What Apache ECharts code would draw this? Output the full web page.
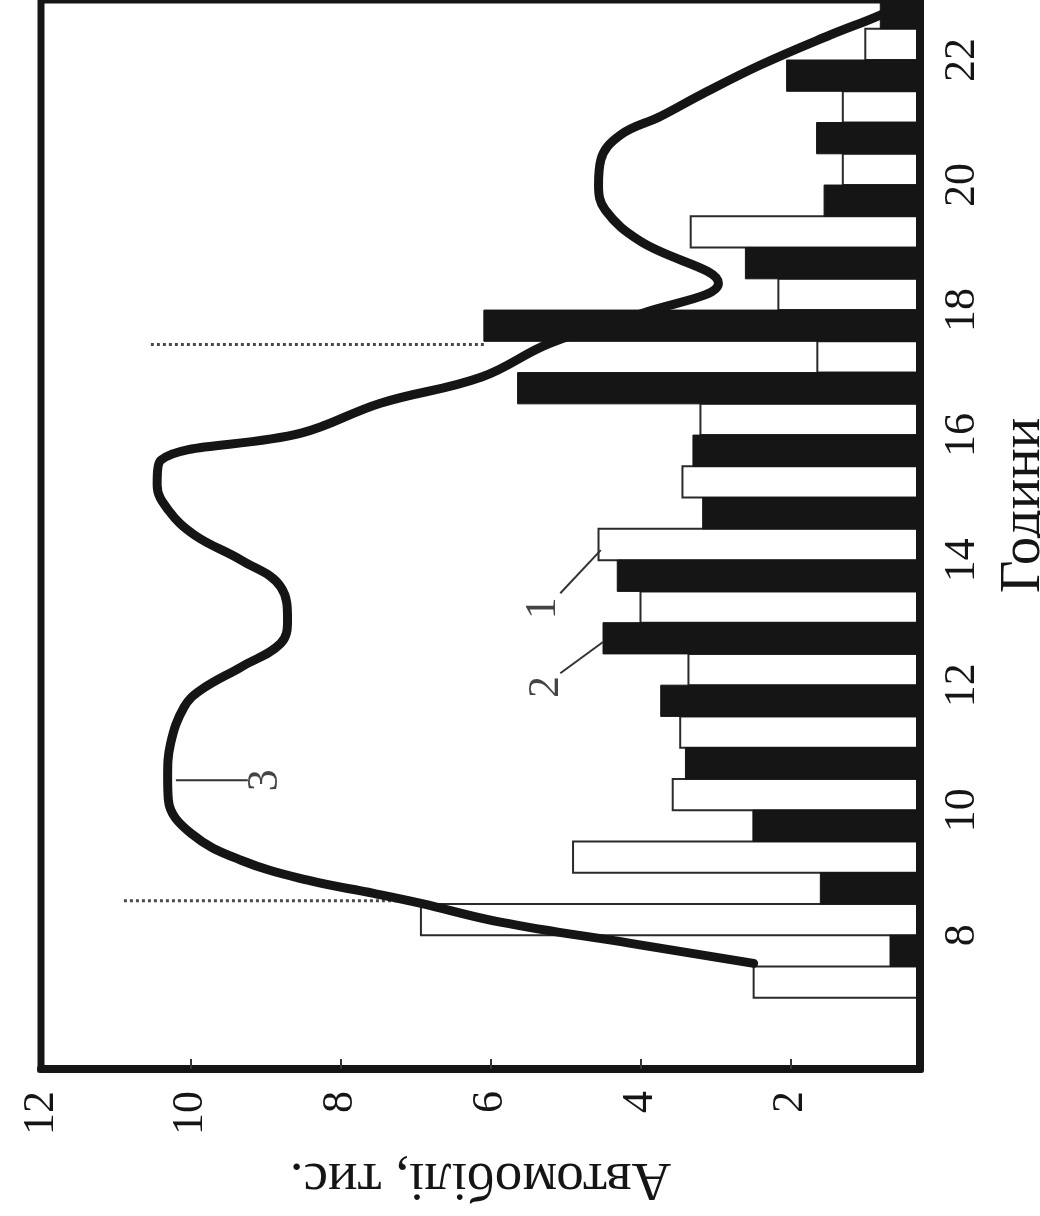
<!DOCTYPE html>
<html>
<head>
<meta charset="utf-8">
<script src="https://cdn.jsdelivr.net/npm/echarts@6/dist/echarts.min.js"></script>
<style>
  html, body { margin: 0; padding: 0; background: #fff; }
  #chart { width: 1040px; height: 1216px; }
</style>
</head>
<body>
<div id="chart"></div>
<script>
// Hourly traffic, thousand cars. Each hour slot holds bar 1 (lower half) and bar 2 (upper half).
const hours   = [7, 8, 9, 10, 11, 12, 13, 14, 15, 16, 17, 18, 19, 20, 21, 22];
const series1 = [2.49, 6.93, 4.90, 3.57, 3.47, 3.36, 4.00, 4.56, 3.44, 3.20, 1.64, 2.16, 3.33, 1.30, 1.30, 1.00];
const series2 = [0.67, 1.60, 2.50, 3.40, 3.73, 4.50, 4.31, 3.17, 3.30, 5.64, 6.09, 2.60, 1.55, 1.65, 2.05, 0.80];

// Curve 3: smoothed traffic intensity
const curveHours  = [7.55, 7.87, 8.21, 8.51, 8.67, 8.88, 9.20, 9.63, 10.16, 10.53, 11.07, 11.65, 11.92, 12.29, 12.67, 13.04, 13.57, 14.00, 14.40, 14.80, 15.20, 15.60, 16.03, 16.51, 16.93, 17.47, 17.95, 18.43, 19.10, 19.60, 20.00, 20.40, 20.80, 21.10, 21.44, 21.92, 22.40, 22.72, 22.96];
const curveValues = [2.49, 4.13, 5.87, 6.93, 7.56, 8.44, 9.33, 10.00, 10.30, 10.31, 10.27, 10.09, 9.87, 9.33, 8.80, 8.71, 8.80, 9.33, 9.95, 10.30, 10.45, 10.40, 8.53, 7.47, 6.12, 5.21, 3.97, 2.96, 4.00, 4.47, 4.56, 4.53, 4.27, 3.73, 3.20, 2.40, 1.47, 0.80, 0.40];

// Peak-hour markers (dotted): hour, from value, to value
const peakHours = [8.55, 17.45];
const peakFrom  = [6.93, 6.09];
const peakTo    = [10.90, 10.56];

// Tick labels
const hourTicks  = [8, 10, 12, 14, 16, 18, 20, 22];
const valueTicks = [2, 4, 6, 8, 10, 12];

// Axis extents
const valueMin = 0.27, valueMax = 12;
const hourMin = 5.86, hourMax = 22.96;

// Callout labels: text, label position [value, hour], leader line [[v,h],[v,h]]
const callouts = [
  { text: '1', at: [5.30, 13.23], line: [[5.07, 13.47], [4.53, 14.16]] },
  { text: '2', at: [5.26, 11.97], line: [[5.07, 12.19], [4.50, 12.69]] },
  { text: '3', at: [9.00, 10.48], line: [[10.20, 10.48], [9.24, 10.48]] }
];

const FONT = '"Liberation Serif", "DejaVu Serif", serif';
const INK = '#151515';

function halfBar(k, fill, stroke, lw) {
  return function (params, api) {
    const v = api.value(0);
    const h = api.value(1);
    const pBase = api.coord([valueMin, h + 0.5 * k]);
    const pTip = api.coord([v, h + 0.5 * (k + 1)]);
    return {
      type: 'rect',
      shape: { x: pTip[0], y: pTip[1], width: pBase[0] - pTip[0], height: pBase[1] - pTip[1] },
      style: { fill: fill, stroke: stroke, lineWidth: lw }
    };
  };
}

const chart = echarts.init(document.getElementById('chart'), null, { renderer: 'canvas' });

const series = [
  {
    name: '1', type: 'custom', clip: true, z: 2,
    renderItem: halfBar(0, '#ffffff', '#2a2a2a', 2),
    encode: { x: 0, y: 1 },
    data: hours.map((h, i) => [series1[i], h])
  },
  {
    name: '2', type: 'custom', clip: true, z: 3,
    renderItem: halfBar(1, INK, INK, 1),
    encode: { x: 0, y: 1 },
    data: hours.map((h, i) => [series2[i], h])
  }
];

peakHours.forEach((h, i) => {
  series.push({
    type: 'line', z: 4, symbol: 'none', silent: true,
    lineStyle: { color: '#4a4a4a', width: 3, type: [3, 3] },
    data: [[peakFrom[i], h], [peakTo[i], h]]
  });
});

series.push({
  name: '3', type: 'line', z: 6, symbol: 'none', smooth: 0.4, silent: true,
  lineStyle: { color: INK, width: 9, cap: 'round', join: 'round' },
  data: curveHours.map((h, i) => [curveValues[i], h])
});

callouts.forEach(c => {
  series.push({
    type: 'line', z: 5, symbol: 'none', silent: true,
    lineStyle: { color: '#333', width: 2 },
    data: c.line
  });
});

series.push({
  type: 'scatter', z: 7, symbolSize: 0, silent: true,
  label: {
    show: true, position: 'inside', rotate: 90,
    fontFamily: FONT, fontSize: 44, color: INK,
    formatter: p => p.data[2]
  },
  data: callouts.map(c => [c.at[0], c.at[1], c.text])
});

chart.setOption({
  animation: false,
  backgroundColor: '#ffffff',
  grid: {
    left: 41, right: 120, top: 0, bottom: 147,
    outerBoundsMode: 'none', containLabel: false,
    show: true, borderColor: INK, borderWidth: 7, backgroundColor: 'transparent'
  },
  xAxis: {
    type: 'value', inverse: true, min: valueMin, max: valueMax, z: 10,
    name: 'Автомобілі, тис.', nameLocation: 'middle', nameRotate: 180, nameGap: 82,
    nameTextStyle: { fontFamily: FONT, fontSize: 55, color: INK },
    axisLine: { show: true, onZero: false, lineStyle: { color: INK, width: 8 } },
    axisTick: { show: true, inside: true, length: 10, customValues: [2, 4, 6, 8, 10], lineStyle: { color: '#333', width: 2 } },
    axisLabel: { customValues: valueTicks, rotate: 90, margin: 22, fontFamily: FONT, fontSize: 44, color: INK },
    splitLine: { show: false }
  },
  yAxis: {
    type: 'value', position: 'right', min: hourMin, max: hourMax, z: 10,
    name: 'Години', nameLocation: 'middle', nameRotate: 90, nameGap: 76,
    nameTextStyle: { fontFamily: FONT, fontSize: 57, color: INK, padding: [0, 0, 0, 58] },
    axisLine: { show: true, onZero: false, lineStyle: { color: INK, width: 8 } },
    axisTick: { show: false },
    axisLabel: { customValues: hourTicks, rotate: 90, margin: 20, fontFamily: FONT, fontSize: 44, color: INK },
    splitLine: { show: false }
  },
  series: series
});
</script>
</body>
</html>
